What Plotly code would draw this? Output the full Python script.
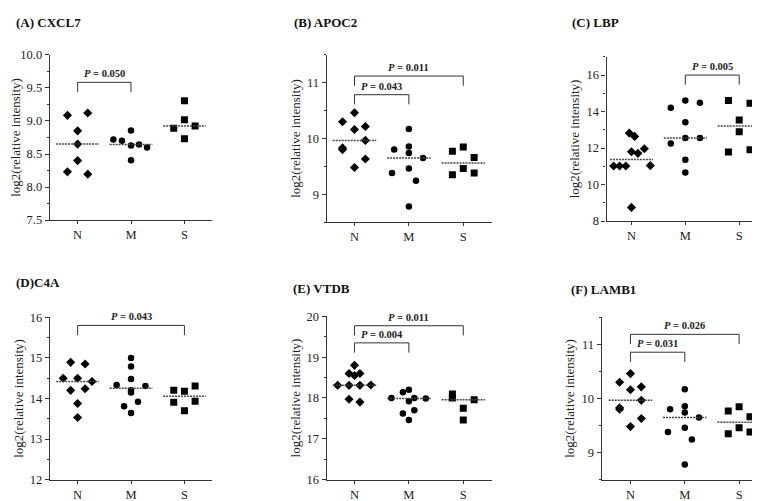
import numpy as np
import plotly.graph_objects as go

W, H = 760, 501
categories = ["N", "M", "S"]
symbols = ["diamond", "circle", "square"]

# ---------------- data ----------------
A_title = "(A) CXCL7"
A_N = [9.085, 9.12, 8.85, 8.65, 8.40, 8.23, 8.195]
A_N_dx = [-0.19, 0.19, 0, 0, 0, -0.19, 0.19]
A_M = [8.72, 8.70, 8.855, 8.63, 8.645, 8.60, 8.405]
A_M_dx = [-0.33, -0.17, 0, 0, 0.15, 0.30, 0]
A_S = [9.305, 9.017, 8.89, 8.925, 8.73]
A_S_dx = [0, 0, -0.2, 0.2, 0]
A_pvals = [("N", "M", 9.584, "0.050")]

B_title = "(B) APOC2"
B_N = [10.30, 10.46, 10.16, 10.215, 9.965, 9.83, 9.80, 9.63, 9.48]
B_N_dx = [-0.22, 0, 0, 0.2, 0.2, -0.22, -0.22, 0.2, 0]
B_M = [10.17, 9.80, 9.855, 9.74, 9.65, 9.46, 9.38, 9.24, 8.78]
B_M_dx = [0, -0.27, 0, 0, 0.26, 0, -0.31, 0.13, 0]
B_S = [9.77, 9.845, 9.66, 9.46, 9.35, 9.38]
B_S_dx = [-0.2, 0, 0.2, 0, -0.2, 0.2]
B_pvals = [("N", "S", 11.12, "0.011"), ("N", "M", 10.785, "0.043")]

C_title = "(C) LBP"
C_N = [11.02, 11.02, 11.02, 12.82, 12.64, 11.80, 11.71, 11.96, 11.04, 8.75]
C_N_dx = [-0.33, -0.22, -0.105, -0.04, 0.06, 0, 0.12, 0.24, 0.35, 0]
C_M = [14.21, 14.61, 14.48, 13.41, 12.25, 12.55, 12.55, 11.36, 10.66]
C_M_dx = [-0.27, 0, 0.27, 0, -0.27, 0, 0.27, 0, 0]
C_S = [14.61, 14.46, 13.54, 12.89, 11.79, 11.91]
C_S_dx = [-0.2, 0.2, 0, 0, -0.2, 0.2]
C_pvals = [("M", "S", 16.0, "0.005")]

D_title = "(D)C4A"
D_N = [14.89, 14.85, 14.50, 14.50, 14.42, 14.20, 14.24, 13.875, 13.53]
D_N_dx = [-0.13, 0.14, -0.27, 0, 0.27, -0.13, 0.14, 0, 0]
D_M = [15.0, 14.79, 14.48, 14.33, 14.31, 14.20, 14.15, 13.92, 13.81, 13.64]
D_M_dx = [0, 0, 0, -0.27, 0.27, 0, 0, 0.13, -0.13, 0]
D_S = [14.20, 14.18, 14.31, 13.91, 13.93, 13.70]
D_S_dx = [-0.2, 0, 0.2, -0.2, 0.2, 0]
D_pvals = [("N", "S", 15.80, "0.043")]

E_title = "(E) VTDB"
E_N = [18.80, 18.60, 18.55, 18.60, 18.31, 18.31, 18.31, 18.32, 17.97, 17.90]
E_N_dx = [0, -0.1, 0, 0.1, -0.31, -0.1, 0.1, 0.3, -0.1, 0.1]
E_M = [18.0, 18.14, 18.20, 18.0, 17.92, 17.99, 17.62, 17.70, 17.46]
E_M_dx = [-0.32, -0.11, 0, 0.1, 0, 0.31, -0.11, 0.1, 0]
E_S = [18.10, 18.0, 17.96, 17.75, 17.46]
E_S_dx = [-0.2, -0.2, 0.2, 0, 0]
E_pvals = [("N", "S", 19.77, "0.011"), ("N", "M", 19.35, "0.004")]

F_title = "(F) LAMB1"
F_N = [10.30, 10.46, 10.16, 10.215, 9.965, 9.83, 9.80, 9.63, 9.48]
F_N_dx = [-0.2, 0, 0, 0.2, 0.2, -0.2, -0.2, 0.2, 0]
F_M = [10.17, 9.80, 9.855, 9.74, 9.65, 9.46, 9.38, 9.24, 8.78]
F_M_dx = [0, -0.27, 0, 0, 0.26, 0, -0.31, 0.13, 0]
F_S = [9.77, 9.845, 9.66, 9.46, 9.35, 9.38]
F_S_dx = [-0.2, 0, 0.2, 0, -0.2, 0.2]
F_pvals = [("N", "S", 11.185, "0.026"), ("N", "M", 10.855, "0.031")]

# ---------------- layout geometry (pixels) ----------------
panels = [
    dict(title=A_title, groups=[(A_N, A_N_dx), (A_M, A_M_dx), (A_S, A_S_dx)], pv=A_pvals,
         px=(39, 202), py=(41, 211), xr=[-0.52, 2.52], yr=[7.5, 10.0], dt=0.5, mdt=0.25, fmt=".1f",
         tpos=(3, 8)),
    dict(title=B_title, groups=[(B_N, B_N_dx), (B_M, B_M_dx), (B_S, B_S_dx)], pv=B_pvals,
         px=(317, 483), py=(41, 213), xr=[-0.51, 2.53], yr=[8.5, 11.5], dt=1, mdt=0.5, fmt="d",
         tpos=(282, 8)),
    dict(title=C_title, groups=[(C_N, C_N_dx), (C_M, C_M_dx), (C_S, C_S_dx)], pv=C_pvals,
         px=(598, 756), py=(43, 212), xr=[-0.46, 2.46], yr=[8, 17], dt=2, mdt=1, fmt="d",
         tpos=(561, 8)),
    dict(title=D_title, groups=[(D_N, D_N_dx), (D_M, D_M_dx), (D_S, D_S_dx)], pv=D_pvals,
         px=(39, 202), py=(311, 478), xr=[-0.52, 2.52], yr=[12, 16], dt=1, mdt=0.5, fmt="d",
         tpos=(3, 275)),
    dict(title=E_title, groups=[(E_N, E_N_dx), (E_M, E_M_dx), (E_S, E_S_dx)], pv=E_pvals,
         px=(317, 483), py=(310, 478), xr=[-0.51, 2.53], yr=[16, 20], dt=1, mdt=0.5, fmt="d",
         tpos=(281, 281)),
    dict(title=F_title, groups=[(F_N, F_N_dx), (F_M, F_M_dx), (F_S, F_S_dx)], pv=F_pvals,
         px=(593, 755), py=(311, 478), xr=[-0.53, 2.44], yr=[8.5, 11.5], dt=1, mdt=0.5, fmt="d",
         tpos=(560, 282)),
]

FONT = "Liberation Serif, Times New Roman, serif"
AXC = "#333333"
fig = go.Figure()
layout = {}
annotations = []
shapes = []

for k, p in enumerate(panels):
    n = k + 1
    xa = "x" if n == 1 else f"x{n}"
    ya = "y" if n == 1 else f"y{n}"
    for ci, (ys, dxs) in enumerate(p["groups"]):
        fig.add_trace(go.Scatter(
            x=[ci + d for d in dxs], y=ys, mode="markers",
            marker=dict(symbol=symbols[ci], size=7 if ci != 1 else 6.5, color="black",
                        line=dict(width=0)),
            xaxis=xa, yaxis=ya, showlegend=False, hoverinfo="y"))
        med = float(np.median(ys))
        fig.add_trace(go.Scatter(
            x=[ci - 0.4, ci + 0.4], y=[med, med], mode="lines",
            line=dict(color="#444444", width=1.5, dash="2px,1px"),
            xaxis=xa, yaxis=ya, showlegend=False, hoverinfo="skip"))
    # brackets
    hpx = p["py"][1] - p["py"][0]
    drop = 10 * (p["yr"][1] - p["yr"][0]) / hpx
    for (g1, g2, yb, txt) in p["pv"]:
        x0 = categories.index(g1)
        x1 = categories.index(g2)
        shapes.append(dict(type="path", xref=xa, yref=ya,
                           path=f"M {x0},{yb - drop} L {x0},{yb} L {x1},{yb} L {x1},{yb - drop}",
                           line=dict(color="#333333", width=1)))
        annotations.append(dict(xref=xa, yref=ya, x=(x0 + x1) / 2, y=yb, yanchor="bottom",
                                yshift=1, showarrow=False,
                                text=f"<b><i>P</i> = {txt}</b>",
                                font=dict(family=FONT, size=10.5, color="#222222")))
    annotations.append(dict(xref="paper", yref="paper", x=p["tpos"][0] / W, y=1 - p["tpos"][1] / H,
                            xanchor="left", yanchor="middle", showarrow=False,
                            text=f"<b>{p['title']}</b>",
                            font=dict(family=FONT, size=13, color="#111111")))
    xkey = "xaxis" if n == 1 else f"xaxis{n}"
    ykey = "yaxis" if n == 1 else f"yaxis{n}"
    layout[xkey] = dict(domain=[p["px"][0] / W, p["px"][1] / W], range=p["xr"],
                        tickvals=[0, 1, 2], ticktext=categories, anchor=ya,
                        showline=True, linecolor=AXC, linewidth=1.3, ticks="outside",
                        ticklen=3, tickcolor=AXC, showgrid=False, zeroline=False,
                        tickfont=dict(family=FONT, size=12.5, color="#222222"))
    layout[ykey] = dict(domain=[1 - p["py"][1] / H, 1 - p["py"][0] / H], range=p["yr"],
                        dtick=p["dt"], tick0=0, tickformat=p["fmt"], anchor=xa,
                        showline=True, linecolor=AXC, linewidth=1.3, ticks="outside",
                        ticklen=4, tickcolor=AXC, showgrid=False, zeroline=False,
                        tickfont=dict(family=FONT, size=12.5, color="#222222"),
                        minor=dict(dtick=p["mdt"], tick0=0, ticks="outside", ticklen=2,
                                   tickcolor=AXC, showgrid=False),
                        title=dict(text="log2(relative intensity)", standoff=3,
                                   font=dict(family=FONT, size=13, color="#222222")))

fig.update_layout(width=W, height=H, margin=dict(l=0, r=0, t=0, b=0),
                  paper_bgcolor="white", plot_bgcolor="white",
                  annotations=annotations, shapes=shapes, **layout)
fig.write_html("out.html")
